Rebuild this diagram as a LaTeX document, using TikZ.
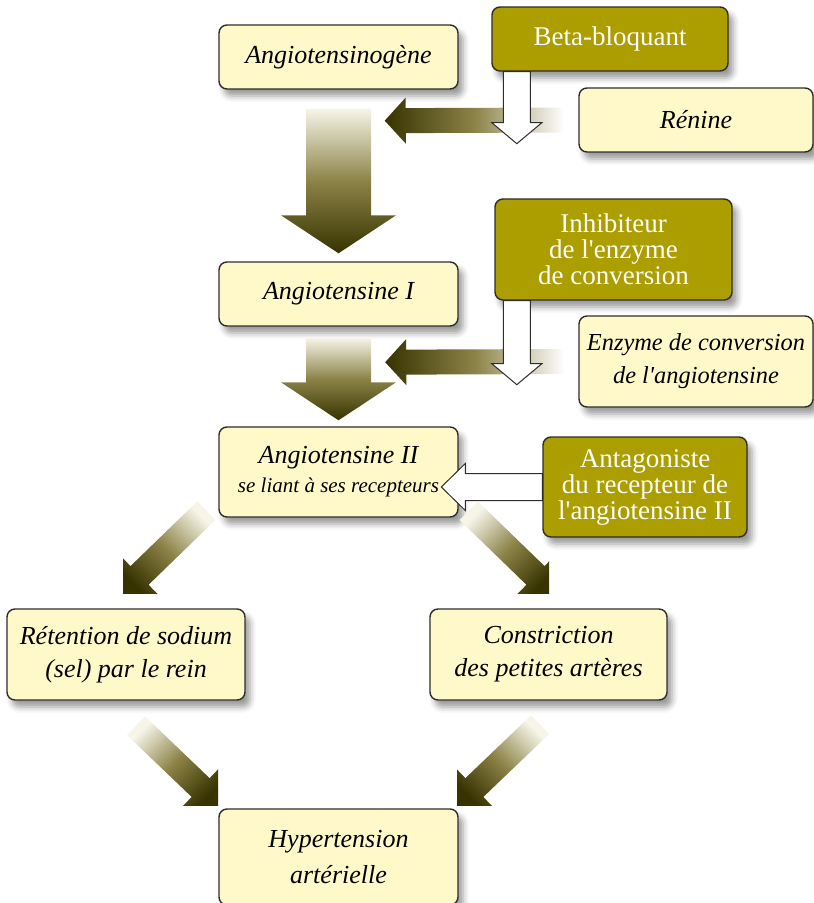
\documentclass[tikz,border=0pt]{standalone}
\usepackage{fontspec}
\setmainfont{Liberation Serif}
\usetikzlibrary{calc, shadows, shadows.blur}

\definecolor{boxyellow}{RGB}{255,249,202}
\definecolor{olivebox}{RGB}{173,158,0}
\definecolor{arrdark}{RGB}{55,51,0}
\definecolor{arrmid}{RGB}{140,131,72}
\definecolor{arrlight}{RGB}{246,245,232}
\definecolor{rimgray}{RGB}{45,45,45}

\tikzset{
    substance/.style = {rectangle, draw=rimgray, line width=0.7pt, fill=boxyellow, rounded corners=4pt, inner sep=0pt, align=center, minimum width=119.5pt, minimum height=32pt, font=\fontsize{13}{16.5}\selectfont\itshape, blur shadow={shadow xshift=2.5pt, shadow yshift=-3.5pt, shadow blur radius=3pt}},
    drug/.style = {substance, fill=olivebox, text=white, font=\fontsize{13.5}{13}\selectfont},
    fatline/.style = {top color=arrlight, bottom color=arrdark, middle color=arrmid},
    sideline/.style = {left color=arrdark, right color=white, middle color=arrmid},
    blockline/.style = {draw=rimgray, line width=0.5pt, fill=white}
}

% #1 style, #2 start, #3 tip, #4 half shaft, #5 half head, #6 head length
\newcommand{\fatarrow}[6]{%
    \coordinate (hb) at ($(#3)!#6!(#2)$);
    \path[#1] ($(#2)!#4!90:(#3)$) -- ($(hb)!#4!90:(#3)$) -- ($(hb)!#5!90:(#3)$) -- (#3)
        -- ($(hb)!#5!-90:(#3)$) -- ($(hb)!#4!-90:(#3)$) -- ($(#2)!#4!-90:(#3)$) -- cycle;
}
\newcommand{\apos}{\textquotesingle}

\begin{document}
\begin{tikzpicture}[x=0.5pt, y=-0.5pt]
    \useasboundingbox (0,0) rectangle (813,903);

    % Nodes
    \node [substance] (angen) at (338.5,57) {Angiotensinogène};
    \node [drug, minimum width=118pt] (beta) at (610,39) {Beta-bloquant};
    \node [substance, minimum width=117pt] (renine) at (696,120) {Rénine};
    \node [substance] (angI) at (338.5,294) {Angiotensine I};
    \node [drug, minimum width=118.5pt, minimum height=50.5pt] (iec) at (613.5,249.5) {Inhibiteur\\de l\apos enzyme\\de conversion};
    \node [substance, minimum width=117pt, minimum height=45.5pt, font=\fontsize{12.2}{16.5}\selectfont\itshape] (enzyme) at (696,361.5) {Enzyme de conversion\\de l\apos angiotensine};
    \node [substance, minimum height=45pt] (angII) at (338.5,472) {Angiotensine II\\[-2pt]{\fontsize{10.5}{13}\selectfont se liant à ses recepteurs}};
    \node [drug, minimum width=102pt, minimum height=50pt] (antag) at (645,487) {Antagoniste\\du recepteur de\\l\apos angiotensine II};
    \node [substance, minimum width=119pt, minimum height=45.5pt] (sodium) at (126,654.5) {Rétention de sodium\\(sel) par le rein};
    \node [substance, minimum width=118.5pt, minimum height=45.5pt] (constr) at (548.5,654.5) {Constriction\\des petites artères};
    \node [substance, minimum height=48pt, font=\fontsize{13}{18}\selectfont\itshape] (hta) at (338.5,857) {Hypertension\\artérielle};

    % Arrow ends
    \coordinate (a1s) at ($(angen.south)+(0,19)$);
    \coordinate (a1t) at ($(angI.north)+(0,-8)$);
    \coordinate (a2s) at ($(angI.south)+(0,11)$);
    \coordinate (a2t) at ($(angII.north)+(0,-6)$);
    \coordinate (r1s) at ($(renine.west)+(-14,0)$);
    \coordinate (r1t) at ($(angen.south east)+(-74,31)$);
    \coordinate (e1s) at ($(enzyme.west)+(-14,0)$);
    \coordinate (e1t) at ($(angI.south east)+(-73.5,35.5)$);
    \coordinate (b1s) at ($(beta.south west)+(25.5,0)$);
    \coordinate (b1t) at ($(b1s)+(0,72)$);
    \coordinate (i1s) at ($(iec.south west)+(22.5,0)$);
    \coordinate (i1t) at ($(i1s)+(0,84)$);
    \coordinate (x1s) at (antag.west);
    \coordinate (x1t) at ($(x1s)+(-101,0)$);
    \coordinate (d1s) at ($(angII.south west)+(-12,-7)$);
    \coordinate (d1t) at ($(sodium.north)+(-8,-12)$);
    \coordinate (d2s) at ($(angII.south east)+(10,-7)$);
    \coordinate (d2t) at ($(constr.north)+(8.5,-12)$);
    \coordinate (d3s) at ($(sodium.south)+(10,25)$);
    \coordinate (d3t) at ($(hta.north west)+(4,0)$);
    \coordinate (d4s) at ($(constr.south)+(-8.5,24)$);
    \coordinate (d4t) at ($(hta.north east)+(-6,0)$);

    % Edges
    \fatarrow{fatline}{a1s}{a1t}{16.25pt}{28.75pt}{19pt}
    \fatarrow{fatline}{a2s}{a2t}{16.25pt}{28.75pt}{19pt}
    \fatarrow{sideline}{r1s}{r1t}{6.25pt}{11.5pt}{10.5pt}
    \fatarrow{sideline}{e1s}{e1t}{6.25pt}{11.5pt}{10.5pt}
    \fatarrow{blockline}{b1s}{b1t}{6.75pt}{12.5pt}{10.5pt}
    \fatarrow{blockline}{i1s}{i1t}{6.75pt}{12.5pt}{10.5pt}
    \fatarrow{blockline}{x1s}{x1t}{6.75pt}{11.75pt}{12pt}

    % Towards the kidney and the arteries
    \begin{scope}
        \clip (123,495) rectangle (230,593);
        \fatarrow{fatline, shading angle=-45}{d1s}{d1t}{6.5pt}{15pt}{15pt}
    \end{scope}
    \begin{scope}
        \clip (440,495) rectangle (549,593);
        \fatarrow{fatline, shading angle=45}{d2s}{d2t}{6.5pt}{15pt}{15pt}
    \end{scope}
    \begin{scope}
        \clip (110,705) rectangle (218,805);
        \fatarrow{fatline, shading angle=45}{d3s}{d3t}{6.5pt}{15pt}{15pt}
    \end{scope}
    \begin{scope}
        \clip (457,705) rectangle (560,805);
        \fatarrow{fatline, shading angle=-45}{d4s}{d4t}{6.5pt}{15pt}{15pt}
    \end{scope}
\end{tikzpicture}
\end{document}
